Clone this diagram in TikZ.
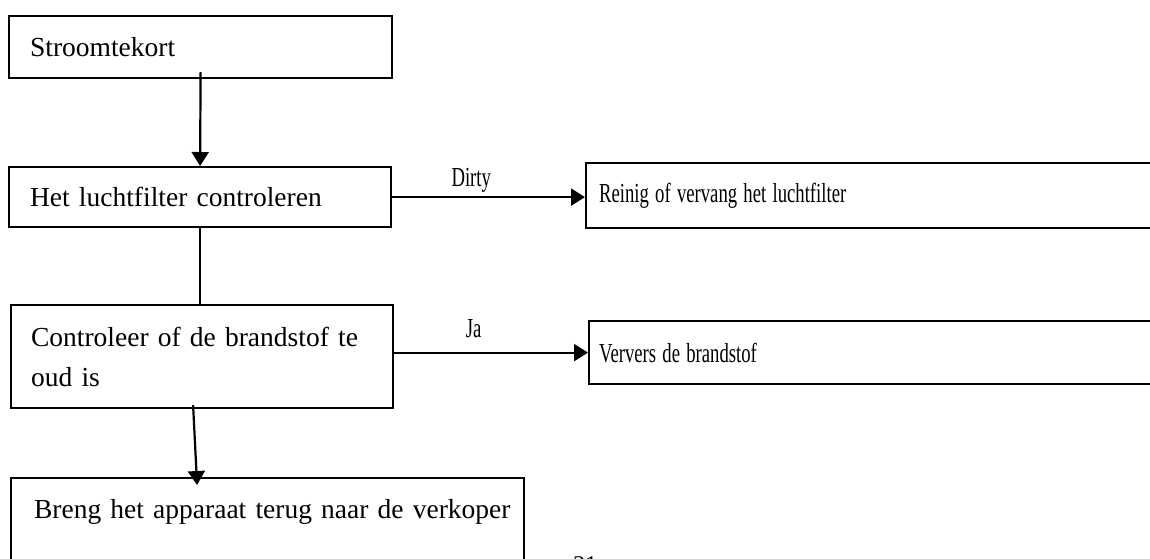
\documentclass[tikz,border=0pt]{standalone}
\usepackage{fontspec}
\setmainfont{Liberation Serif}
\usepackage{graphicx}
\usepackage{tikz}
\usetikzlibrary{arrows.meta, positioning, calc}

\newcommand{\squeezed}[1]{\scalebox{0.68}[1]{#1}}

\begin{document}
\begin{tikzpicture}[
    x=1pt, y=-1pt,
    >={Triangle[length=14pt, width=17pt]},
    box/.style={draw, line width=2.2pt, inner ysep=0pt, anchor=north west, align=left, font=\fontsize{27.5}{40}\selectfont},
    flow/.style={->, line width=2.2pt},
    lbl/.style={inner sep=2pt, font=\fontsize{27.5}{34}\selectfont},
]
    \useasboundingbox (0,0) rectangle (1150,558);
    \clip (0,0) rectangle (1150,558);

    % left column
    \node[box, inner xsep=21pt, text width=341pt, minimum height=62pt] (strom) at (8,15) {Stroomtekort};
    \node[box, inner xsep=21pt, text width=340pt, minimum height=60pt] (lucht) at (8,166) {Het luchtfilter controleren};
    \node[box, inner xsep=20pt, text width=342pt, minimum height=103pt] (ctrl) at (10,304) {Controleer of de brandstof te\\oud is};
    \node[box, inner xsep=23pt, inner ysep=21pt, text width=467pt, text height=19pt, text depth=60pt] (breng) at (10,477) {\mbox{Breng het apparaat terug naar de verkoper}};

    % right column
    \node[box, inner xsep=13pt, text width=674pt, minimum height=65pt] (reinig) at (585,162) {\squeezed{Reinig of vervang het luchtfilter}};
    \node[box, inner xsep=10pt, text width=680pt, minimum height=63pt] (ververs) at (588,320) {\squeezed{Ververs de brandstof}};

    % page number
    \node[anchor=north west, inner sep=0pt, font=\fontsize{24}{24}\selectfont] (pagenr) at (573,556) {31};

    \draw[flow] ([yshift=7pt]strom.south) -- (lucht.north);
    \draw[flow] (lucht.east) -- node[lbl, above=2pt, pos=0.41] {\squeezed{Dirty}} (lucht.east -| reinig.west);
    \draw[line width=2.2pt] (lucht.south) -- (lucht.south |- ctrl.north);
    \draw[flow] (ververs.west -| ctrl.east) -- node[lbl, above=12pt, pos=0.41] {\squeezed{Ja}} (ververs.west);
    \draw[flow] ([xshift=-9pt, yshift=4pt]ctrl.south) -- ([xshift=-70.5pt, yshift=-8pt]breng.north);
\end{tikzpicture}
\end{document}
